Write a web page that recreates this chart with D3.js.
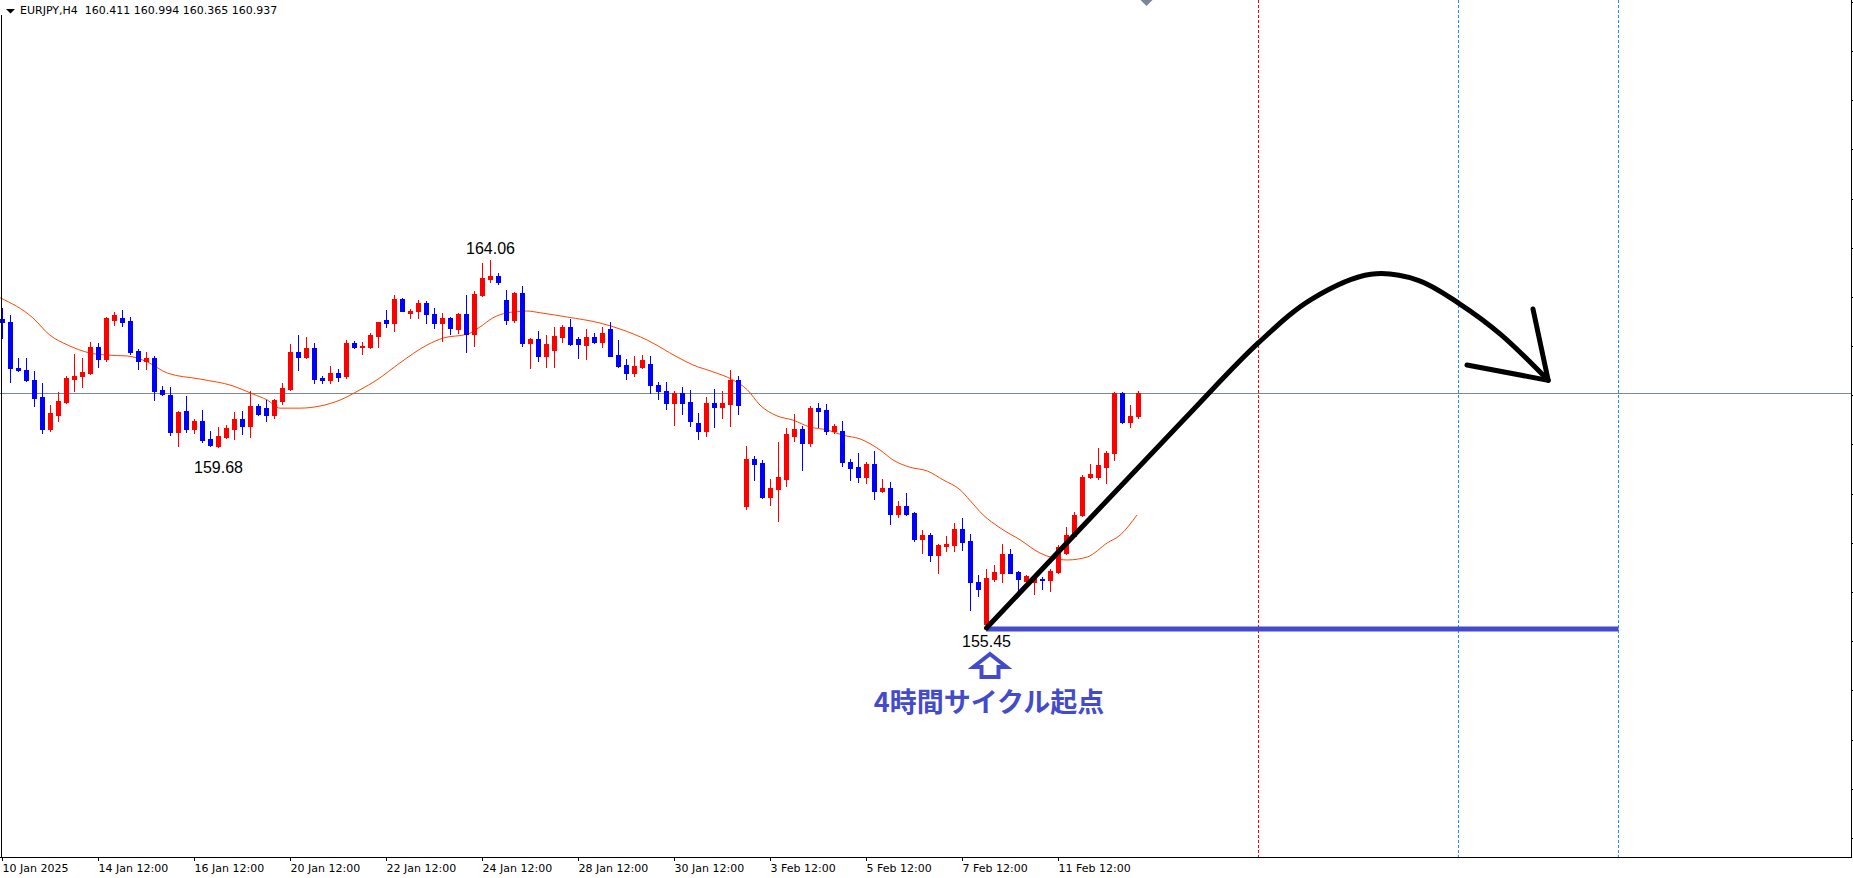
<!DOCTYPE html>
<html>
<head>
<meta charset="utf-8">
<script src="https://cdn.jsdelivr.net/npm/d3@7/dist/d3.min.js"></script>
<style>
html,body{margin:0;padding:0;background:#ffffff;overflow:hidden;}
svg{display:block;}
</style>
</head>
<body>
<svg id="chart" width="1853" height="878"></svg>
<script>
// ================= DATA =================
const symbolTitle = "EURJPY,H4";
const lastQuote = ["160.411", "160.994", "160.365", "160.937"];

const opens = [162.67,162.60,161.54,161.48,161.24,160.86,160.10,160.44,160.73,161.28,
161.33,161.42,162.02,161.75,162.66,162.70,162.63,161.93,161.70,161.76,
161.01,160.90,160.03,160.52,160.10,160.29,159.87,159.71,159.92,160.10,
160.34,160.18,160.64,160.59,160.44,160.76,161.04,161.90,161.79,162.00,
161.30,161.25,161.41,161.33,162.11,162.01,162.02,162.28,162.64,162.59,
163.14,162.81,162.85,163.06,162.79,162.59,162.70,162.44,162.79,162.33,
163.24,163.62,163.68,163.12,162.64,163.29,162.12,162.21,161.81,161.95,
162.26,162.48,162.21,162.06,162.25,162.14,162.44,161.83,161.60,161.42,
161.56,161.62,161.13,160.99,160.72,160.94,160.73,160.25,160.06,160.72,
160.62,160.69,161.25,158.30,159.40,159.30,158.52,158.70,158.93,159.94,
160.10,159.78,160.59,160.55,160.06,160.06,159.34,159.22,158.99,159.29,
158.66,158.72,158.12,158.30,158.13,157.53,157.62,157.16,157.37,157.39,
157.77,157.48,156.53,155.54,156.60,156.74,157.18,156.75,156.56,156.53,
156.60,156.57,156.75,157.20,157.59,158.08,158.97,158.99,159.22,159.55,
160.94,160.27,160.411];

const highs = [162.93,162.77,161.76,161.76,161.46,161.18,160.67,160.96,161.35,161.85,
161.76,162.14,162.11,162.71,162.84,162.89,162.72,161.97,161.90,161.81,
161.11,161.09,160.53,160.87,160.34,160.55,160.06,160.15,160.20,160.50,
160.52,160.98,160.69,160.78,160.80,161.18,162.09,162.30,162.25,162.11,
161.35,161.58,161.50,162.18,162.17,162.14,162.35,162.60,162.89,163.23,
163.16,162.91,163.12,163.09,162.93,162.82,162.72,162.81,163.24,163.33,
163.99,164.06,163.76,163.35,163.31,163.45,162.23,162.39,162.30,162.49,
162.53,162.68,162.25,162.44,162.34,162.49,162.60,162.18,161.74,161.81,
161.83,161.80,161.21,161.19,160.98,161.09,161.02,160.48,160.86,161.04,
160.99,161.48,161.35,159.71,159.46,159.38,158.93,159.81,160.13,160.45,
160.18,160.65,160.71,160.69,160.22,160.30,159.40,159.55,159.32,159.59,
158.93,158.87,158.42,158.61,158.17,157.74,157.66,157.41,157.60,157.90,
158.02,157.64,156.69,156.82,156.92,157.41,157.29,156.78,156.69,156.67,
156.65,156.83,157.39,157.82,158.17,159.02,159.28,159.65,159.59,160.97,
160.97,160.66,160.994];

const lows = [162.23,161.19,161.47,161.23,160.65,160.02,160.06,160.29,160.70,160.99,
161.09,161.39,161.56,161.70,162.53,162.51,161.86,161.51,161.51,160.78,
160.89,159.96,159.71,160.03,160.02,159.80,159.70,159.68,159.89,159.87,
159.99,159.92,160.43,160.29,160.37,160.69,161.02,161.48,161.76,161.18,
161.18,161.18,161.23,161.30,161.99,161.85,162.00,162.03,162.49,162.40,
162.87,162.70,162.70,162.59,162.47,162.17,162.32,162.34,161.90,162.04,
163.21,163.53,163.49,162.56,162.61,162.05,161.52,161.70,161.55,161.55,
162.14,162.06,161.76,161.73,162.11,162.03,161.80,161.56,161.27,161.35,
161.52,160.94,160.80,160.57,160.20,160.45,160.18,159.87,159.94,160.16,
160.37,160.18,160.45,158.23,158.91,158.50,158.33,157.96,158.78,159.83,
159.14,159.71,160.14,159.99,160.02,159.24,158.91,158.86,158.84,158.47,
158.62,157.88,158.04,158.09,157.49,157.21,157.02,156.74,157.25,157.24,
157.27,155.86,156.20,155.45,156.56,156.53,156.73,156.33,156.53,156.25,
156.37,156.32,156.73,157.18,157.57,158.06,158.96,158.93,158.85,159.38,
160.25,160.16,160.365];

const closes = [162.60,161.52,161.48,161.24,160.83,160.10,160.48,160.76,161.30,161.35,
161.44,162.03,161.75,162.69,162.77,162.60,161.90,161.70,161.76,160.99,
160.92,160.03,160.51,160.10,160.29,159.85,159.72,159.94,160.13,160.34,
160.18,160.64,160.45,160.43,160.78,161.06,161.90,161.79,162.00,161.27,
161.25,161.41,161.32,162.11,162.03,162.04,162.30,162.60,162.59,163.14,
162.87,162.87,163.06,162.78,162.59,162.70,162.46,162.79,162.33,163.26,
163.64,163.68,163.55,162.64,163.29,162.11,162.21,161.81,162.09,162.28,
162.48,162.08,162.08,162.25,162.14,162.35,161.81,161.58,161.42,161.58,
161.72,161.12,160.98,160.72,160.94,160.72,160.30,160.06,160.72,160.62,
160.72,161.25,160.66,159.40,159.29,158.52,158.72,158.99,159.99,160.10,
159.78,160.59,160.53,160.06,160.17,159.32,159.20,158.99,159.29,158.66,
158.72,158.12,158.30,158.12,157.53,157.62,157.16,157.39,157.41,157.77,
157.47,156.53,156.36,156.61,156.75,157.18,156.74,156.60,156.67,156.61,
156.58,156.79,157.35,157.62,158.08,158.99,159.04,159.25,159.55,160.94,
160.27,160.40,160.937];

// moving average, read at sample bars
const maBars = [-0.3,3.8,5.9,8.1,10.9,13.1,15.6,18.1,20.6,24.7,28.8,31.3,33.1,34.7,37.2,39.7,42.2,44.7,46.8,49.7,
53.1,55.1,58.1,59.7,61.3,63.1,65.6,67.2,70.6,74.7,77.2,80.6,84.3,86.3,88.8,91.3,93.1,94.7,96.8,98.8,
100.9,103.1,105.0,107.2,109.7,111.3,113.4,115.6,117.6,119.7,120.9,122.6,124.7,127.2,129.7,131.3,133.1,135.6,138.1,139.7,141.8];
const maValues = [163.17,162.70,162.30,162.07,161.88,161.83,161.81,161.67,161.41,161.27,161.11,160.92,160.78,160.59,160.59,160.64,160.78,161.02,161.25,161.65,
162.07,162.23,162.32,162.49,162.70,162.82,162.86,162.82,162.72,162.58,162.44,162.18,161.79,161.60,161.44,161.25,161.02,160.66,160.41,160.31,
160.15,160.08,159.96,159.87,159.61,159.38,159.21,159.12,158.91,158.68,158.44,158.09,157.79,157.51,157.20,157.09,157.04,157.11,157.44,157.62,158.09];

const timeTickBars = [0, 12, 24, 36, 48, 60, 72, 84, 96, 108, 120, 132];
const timeTickLabels = ["10 Jan 2025", "14 Jan 12:00", "16 Jan 12:00", "20 Jan 12:00", "22 Jan 12:00",
  "24 Jan 12:00", "28 Jan 12:00", "30 Jan 12:00", "3 Feb 12:00", "5 Feb 12:00", "7 Feb 12:00", "11 Feb 12:00"];
const priceTicks = [170.08, 168.93, 167.78, 166.63, 165.48, 164.33, 163.18, 162.03, 160.88, 159.73,
  158.58, 157.43, 156.28, 155.13, 153.98, 152.83, 151.68, 150.53];

const currentPrice = 160.937;

const extremeBars = [61, 27, 123];
const extremeValues = [164.06, 159.68, 155.45];
const extremeLabels = ["164.06", "159.68", "155.45"];

const cycleStartBar = 123;
const cycleStartPrice = 155.45;
const supportEndBar = 202;
const redLineBars = [157];
const blueLineBars = [182, 202];
const shiftMarkerBar = 143;

const forecastBars = [123, 147.41, 157.01, 163.66, 171.05, 176.96, 182.13, 187.30, 193.21];
const forecastPrices = [155.45, 160.27, 162.12, 163.14, 163.72, 163.58, 163.03, 162.31, 161.24];
const arrowHeadBars = [191.31, 193.21, 183.06];
const arrowHeadPrices = [162.91, 161.24, 161.60];

const annotationText = "4時間サイクル起点";

// ================= DRAWING =================
const svg = d3.select("#chart");
const plotRight = 1851, plotBottom = 857;

const x = d3.scaleLinear().domain([0, 231]).range([2.5, 2.5 + 231 * 8]);
const y = d3.scaleLinear().domain([150.095, 170.133]).range([plotBottom, 0]);

const bullColor = "#ff0000", bearColor = "#0000ff";
const annoBlue = "#434bcc";

const candles = opens.map((o, i) => ({i, o, h: highs[i], l: lows[i], c: closes[i]}));

// vertical time lines
const vg = svg.append("g");
vg.selectAll("line.red").data(redLineBars).join("line")
  .attr("x1", d => x(d)).attr("x2", d => x(d))
  .attr("y1", 0).attr("y2", plotBottom)
  .attr("stroke", "#ff0000").attr("stroke-width", 1).attr("stroke-dasharray", "3,2")
  .attr("shape-rendering", "crispEdges");
vg.selectAll("line.blue").data(blueLineBars).join("line")
  .attr("x1", d => x(d)).attr("x2", d => x(d))
  .attr("y1", 0).attr("y2", plotBottom)
  .attr("stroke", "#1e90ff").attr("stroke-width", 1).attr("stroke-dasharray", "3,2")
  .attr("shape-rendering", "crispEdges");

// current price line
svg.append("line")
  .attr("x1", 0).attr("x2", plotRight)
  .attr("y1", Math.round(y(currentPrice)) + 0.5).attr("y2", Math.round(y(currentPrice)) + 0.5)
  .attr("stroke", "#7b8896").attr("stroke-width", 1);

// moving average
const maLine = d3.line().x((d, k) => x(maBars[k])).y(d => y(d)).curve(d3.curveMonotoneX);
svg.append("path").attr("d", maLine(maValues))
  .attr("fill", "none").attr("stroke", "#ff4500").attr("stroke-width", 1);

// candles
const cg = svg.append("g").attr("shape-rendering", "crispEdges");
cg.selectAll("line.wick").data(candles).join("line")
  .attr("x1", d => x(d.i)).attr("x2", d => x(d.i))
  .attr("y1", d => Math.round(y(d.h))).attr("y2", d => Math.round(y(d.l)) + 1)
  .attr("stroke", d => d.c >= d.o ? bullColor : bearColor).attr("stroke-width", 1);
cg.selectAll("rect.body").data(candles).join("rect")
  .attr("x", d => x(d.i) - 2.5)
  .attr("width", 5)
  .attr("y", d => Math.round(y(Math.max(d.o, d.c))))
  .attr("height", d => Math.max(1, Math.round(y(Math.min(d.o, d.c))) - Math.round(y(Math.max(d.o, d.c))) + 1))
  .attr("fill", d => d.c >= d.o ? bullColor : bearColor);

// support line from the cycle low
svg.append("line")
  .attr("x1", x(cycleStartBar) - 0.5).attr("x2", x(supportEndBar))
  .attr("y1", y(cycleStartPrice) + 1).attr("y2", y(cycleStartPrice) + 1)
  .attr("stroke", annoBlue).attr("stroke-width", 5);

// forecast arrow
const fLine = d3.line().x((d, k) => x(forecastBars[k])).y(d => y(d)).curve(d3.curveCatmullRom.alpha(0.5));
svg.append("path").attr("d", fLine(forecastPrices))
  .attr("fill", "none").attr("stroke", "#000").attr("stroke-width", 5)
  .attr("stroke-linecap", "round").attr("stroke-linejoin", "round");
const headLine = d3.line().x((d, k) => x(arrowHeadBars[k])).y(d => y(d));
svg.append("path").attr("d", headLine(arrowHeadPrices))
  .attr("fill", "none").attr("stroke", "#000").attr("stroke-width", 5)
  .attr("stroke-linecap", "round").attr("stroke-linejoin", "round");

// extreme labels
const labelDy = [-6, 26, 19];
svg.selectAll("text.ext").data(extremeValues).join("text")
  .attr("x", (d, k) => x(extremeBars[k]))
  .attr("y", (d, k) => y(d) + labelDy[k])
  .attr("text-anchor", "middle")
  .attr("font-family", "'Liberation Sans', Arial, sans-serif")
  .attr("font-size", 16).attr("fill", "#000")
  .text((d, k) => extremeLabels[k]);

// hollow up arrow under the low
const ax = x(cycleStartBar) + 3.5;
const ay = y(cycleStartPrice);
svg.append("path")
  .attr("d", `M${ax},${ay + 26} L${ax + 16.5},${ay + 39} L${ax + 8.5},${ay + 39} L${ax + 8.5},${ay + 49} L${ax - 8.5},${ay + 49} L${ax - 8.5},${ay + 39} L${ax - 16.5},${ay + 39} Z`)
  .attr("fill", "#fff").attr("stroke", annoBlue).attr("stroke-width", 4).attr("stroke-linejoin", "miter");

svg.append("text")
  .attr("x", ax - 1).attr("y", ay + 84)
  .attr("text-anchor", "middle")
  .attr("font-family", "'Noto Sans CJK JP', sans-serif")
  .attr("font-weight", "bold").attr("font-size", 27)
  .attr("fill", annoBlue)
  .text(annotationText);

// chart shift marker
const sx = x(shiftMarkerBar);
svg.append("path").attr("d", `M${sx - 6},0 L${sx + 6},0 L${sx},6 Z`).attr("fill", "#778899");

// frame
svg.append("line").attr("x1", 0).attr("x2", plotRight + 1).attr("y1", plotBottom + 0.5).attr("y2", plotBottom + 0.5)
  .attr("stroke", "#000").attr("stroke-width", 1);
svg.append("line").attr("x1", plotRight + 0.5).attr("x2", plotRight + 0.5).attr("y1", 0).attr("y2", plotBottom + 1)
  .attr("stroke", "#000").attr("stroke-width", 1);
svg.append("line").attr("x1", 1.5).attr("x2", 1.5).attr("y1", 15).attr("y2", plotBottom + 1)
  .attr("stroke", "#000").attr("stroke-width", 1);

// time axis
const xAxis = d3.axisBottom(x).tickValues(timeTickBars)
  .tickFormat((d, k) => timeTickLabels[k]).tickSize(3).tickSizeOuter(0).offset(0);
const xg = svg.append("g").attr("transform", `translate(0,${plotBottom + 1})`).call(xAxis);
xg.select(".domain").remove();
xg.selectAll(".tick line").attr("stroke", "#000").attr("shape-rendering", "crispEdges");
xg.selectAll(".tick text").attr("text-anchor", "start").attr("x", 0)
  .attr("fill", "#000").attr("font-family", "'DejaVu Sans', sans-serif").attr("font-size", 11);

// price axis ticks (labels fall outside the window)
const yAxis = d3.axisRight(y).tickValues(priceTicks).tickFormat("").tickSize(2).tickSizeOuter(0).offset(0);
const yg = svg.append("g").attr("transform", `translate(${plotRight + 1},0)`).call(yAxis);
yg.select(".domain").remove();
yg.selectAll(".tick line").attr("stroke", "#000").attr("shape-rendering", "crispEdges");

// header
svg.append("path").attr("d", "M6,9 L15,9 L10.5,13.5 Z").attr("fill", "#000");
svg.append("text").attr("x", 20).attr("y", 13.5)
  .attr("font-family", "'DejaVu Sans', sans-serif").attr("font-size", 11).attr("fill", "#000")
  .attr("xml:space", "preserve")
  .text(symbolTitle + "  " + lastQuote.join(" "));
</script>
</body>
</html>
